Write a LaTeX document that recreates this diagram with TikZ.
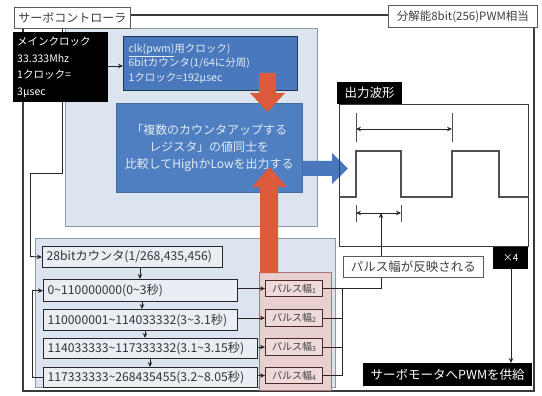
\documentclass[tikz,border=0pt]{standalone}
\usepackage{fontspec}
\setmainfont{Noto Sans CJK JP}
\usetikzlibrary{arrows.meta}

\definecolor{panelblue}{HTML}{DCE5EF}
\definecolor{panelline}{HTML}{8C99A8}
\definecolor{boxblue}{HTML}{4A78BC}
\definecolor{navy}{HTML}{1F3556}
\definecolor{bigblue}{HTML}{4F7FC1}
\definecolor{bluetext}{HTML}{E4EBF6}
\definecolor{redarrow}{HTML}{DE5A3C}
\definecolor{pinkpanel}{HTML}{E8D0D0}
\definecolor{pinkline}{HTML}{A87878}
\definecolor{pinkbox}{HTML}{EFDADA}
\definecolor{pinkborder}{HTML}{4A2A2A}
\definecolor{rowfill}{HTML}{E9EEF4}
\definecolor{framegray}{HTML}{3A3A3A}
\definecolor{wavegray}{HTML}{505050}

\newcommand{\tld}{\textasciitilde}
\newcommand{\pnum}[1]{\raisebox{-1pt}{\fontsize{7}{7}\selectfont #1}}

\tikzset{
  frameline/.style={draw=framegray, line width=1.4pt},
  labelbox/.style={draw=gray!70!black, fill=white, line width=0.8pt, inner sep=0pt, font=\fontsize{12}{13}\selectfont, text=black!75},
  blackbox/.style={fill=black, text=white, inner sep=0pt},
  panel/.style={draw=panelline, fill=panelblue, line width=0.9pt, inner sep=0pt},
  clkbox/.style={draw=navy, fill=boxblue, line width=1.2pt, text=bluetext, inner xsep=5pt, inner ysep=0pt, align=left, font=\fontsize{10.5}{14.5}\selectfont},
  bigbox/.style={fill=bigblue, draw=bigblue!85!black, line width=0.5pt, text=bluetext, inner sep=0pt, align=center, font=\fontsize{12}{17}\selectfont},
  rowbox/.style={draw=black!85, fill=rowfill, line width=1.3pt, inner xsep=4pt, inner ysep=0pt, align=left, text=black!80, font=\fontsize{12.2}{13}\selectfont},
  pulsebox/.style={draw=pinkborder, fill=pinkbox, line width=1.1pt, inner sep=0pt, text=black!75, font=\fontsize{10}{11}\selectfont},
  conn/.style={draw=black!85, line width=0.9pt},
  arr/.style={conn, -{Stealth[length=5pt,width=4.5pt]}},
  dimarr/.style={draw=black!85, line width=0.9pt, {Stealth[length=5pt,width=4.5pt]}-{Stealth[length=5pt,width=4.5pt]}},
}

\begin{document}
\begin{tikzpicture}[x=1pt, y=-1pt]
\useasboundingbox (0,0) rectangle (542,396);
\fill[white] (0,0) rectangle (542,396);

% outer controller frame
\draw[frameline] (23,15) rectangle (534,391);

% background panels
\node[panel, anchor=north west, minimum width=252pt, minimum height=198pt] (toppanel) at (65,28) {};
\node[panel, anchor=north west, minimum width=300pt, minimum height=149pt] (lowpanel) at (35,238) {};
\fill[pinkpanel, draw=pinkline, line width=0.9pt] (259,272) rectangle (331,390);

% main clock and its feed to the 28-bit counter
\node[labelbox, anchor=north west, minimum width=116pt, minimum height=21pt] (title) at (14,7) {サーボコントローラ};
\node[labelbox, anchor=north west, minimum width=149pt, minimum height=22pt, font=\fontsize{11.5}{13}\selectfont] (resol) at (388,5) {分解能8bit(256)PWM相当};

\draw[conn] (title.south -| 62,0) -- (62,173) -- (30,173) -- (30,256.5);
\node[blackbox, anchor=north west, minimum width=95pt, minimum height=70pt, text width=87pt, inner xsep=4pt, align=left, font=\fontsize{10.5}{16.5}\selectfont] (clock) at (13,32) {メインクロック\\33.333Mhz\\1クロック=\\3μsec};

% PWM clock divider
\node[clkbox, anchor=north west, minimum height=54pt, text width=164pt] (clk) at (123,36) {\underline{clk(pwm)}用クロック)\\6bitカウンタ(1/64に分周)\\1クロック=192μsec};
\draw[arr] (clock.east |- 0,66) -- (clk.west |- 0,66);

% comparator
\node[bigbox, anchor=north west, minimum width=186pt, minimum height=89pt] (cmp) at (116,103) {「複数のカウンタアップする\\レジスタ」の値同士を\\比較してHighかLowを出力する};

% block arrows
\fill[redarrow] (259,73) -- (276,73) -- (276,93) -- (285,93) -- (267.5,112) -- (250,93) -- (259,93) -- cycle;
\fill[redarrow] (260,273) -- (278,273) -- (278,187) -- (287,187) -- (269.5,167) -- (252,187) -- (260,187) -- cycle;
\fill[boxblue] (303,161) -- (332,161) -- (332,153) -- (348,168.5) -- (332,184) -- (332,176) -- (303,176) -- cycle;

% output waveform
\node[blackbox, anchor=north west, minimum width=65pt, minimum height=22pt, font=\fontsize{12.5}{13}\selectfont] (outlbl) at (337,82) {出力波形};
\node[draw=framegray, line width=1.4pt, anchor=north west, minimum width=189pt, minimum height=142pt, inner sep=0pt] (wave) at (339,104) {};
\draw[draw=wavegray, line width=1.3pt] (wave.west |- 0,197) -- (356,197) -- (356,151) -- (401,151) -- (401,197) -- (452,197) -- (452,151) -- (499,151) -- (499,197) -- (wave.east |- 0,197);
\draw[conn, draw=wavegray] (356,113) -- (356,142) (452,113) -- (452,142);
\draw[dimarr] (356,129) -- (452,129);
\draw[conn, draw=wavegray] (356,205) -- (356,222) (401,205) -- (401,222);
\draw[dimarr] (356,213) -- (401,213);
\coordinate (pwdim) at (381,213);

\node[blackbox, anchor=north west, minimum width=35pt, minimum height=22pt, font=\fontsize{10}{10}\selectfont] (times) at (493,247) {×4};
\node[labelbox, anchor=north west, minimum width=140pt, minimum height=21pt, font=\fontsize{12.5}{13}\selectfont] (reflect) at (343,256) {パルス幅が反映される};
\node[blackbox, anchor=north west, minimum width=169pt, minimum height=23pt, font=\fontsize{12.5}{13}\selectfont] (supply) at (363,363) {サーボモータへPWMを供給};

% 28-bit counter and range decoders
\node[rowbox, anchor=north west, minimum height=21pt, text width=172pt] (counter) at (42,246) {28bitカウンタ(1/268,435,456)};
\node[rowbox, anchor=north west, minimum height=22pt, text width=186pt] (r1) at (43,279) {0\tld110000000(0\tld3秒)};
\node[rowbox, anchor=north west, minimum height=21pt, text width=186pt] (r2) at (43,309) {110000001\tld114033332(3\tld3.1秒)};
\node[rowbox, anchor=north west, minimum height=20pt, text width=206pt] (r3) at (43,338) {114033333\tld117333332(3.1\tld3.15秒)};
\node[rowbox, anchor=north west, minimum height=20pt, text width=206pt] (r4) at (43,367) {117333333\tld268435455(3.2\tld8.05秒)};

\draw[arr] (30,256.5) -- (counter.west);
\draw[arr] (counter.south -| 140,0) -- (r1.north -| 140,0);
\draw[arr] (r1.south -| 142,0) -- (r2.north -| 142,0);
\draw[arr] (r2.south -| 145,0) -- (r3.north -| 145,0);
\draw[arr] (r3.south -| 150,0) -- (r4.north -| 150,0);
\draw[arr] (r4.west) -- (32,0 |- r4.west) |- (r1.west);

% pulse width registers
\node[pulsebox, anchor=north west, minimum width=57pt, minimum height=16pt] (p1) at (265,280) {パルス幅\pnum{1}};
\node[pulsebox, anchor=north west, minimum width=57pt, minimum height=17pt] (p2) at (265,309) {パルス幅\pnum{2}};
\node[pulsebox, anchor=north west, minimum width=57pt, minimum height=17pt] (p3) at (265,338) {パルス幅\pnum{3}};
\node[pulsebox, anchor=north west, minimum width=57pt, minimum height=16pt] (p4) at (265,367) {パルス幅\pnum{4}};

\draw[arr] (r1.east |- p1.west) -- (p1.west);
\draw[arr] (r2.east |- p2.west) -- (p2.west);
\draw[arr] (r3.east |- p3.west) -- (p3.west);
\draw[arr] (r4.east |- p4.west) -- (p4.west);

\draw[conn] (p1.east) -- (p1.east -| 381,0) -- (reflect.south -| 381,0);
\draw[conn] (p2.east) -- (p2.east -| 342,0);
\draw[conn] (p3.east) -- (p3.east -| 342,0);
\draw[conn] (p4.east) -- (p4.east -| 342,0);
\draw[conn] (p1.east -| 342,0) -- (p4.east -| 342,0);
\draw[arr] (reflect.north -| pwdim) -- (pwdim);
\draw[arr] (times.south -| 511,0) -- (supply.north -| 511,0);
\end{tikzpicture}
\end{document}
